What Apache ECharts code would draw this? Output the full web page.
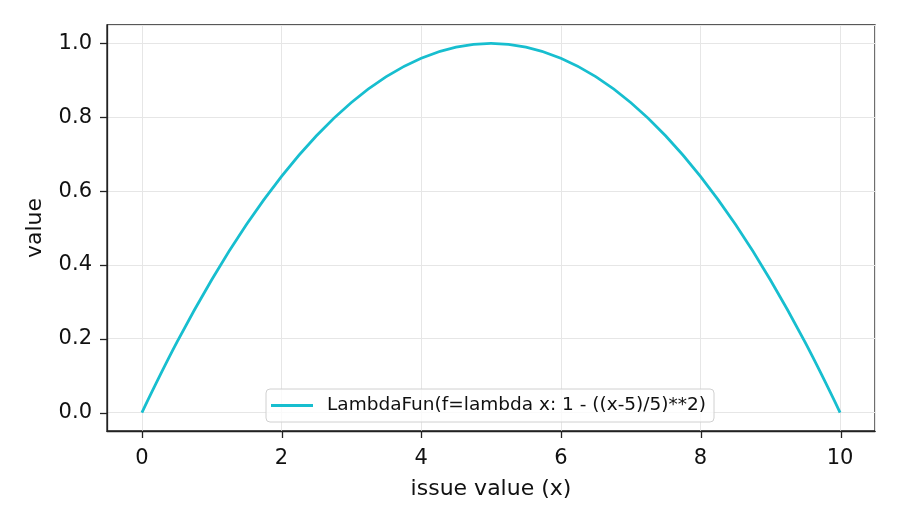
<!DOCTYPE html>
<html>
<head>
<meta charset="utf-8">
<script src="https://cdn.jsdelivr.net/npm/echarts@6/dist/echarts.min.js"></script>
<style>
  html, body { margin: 0; padding: 0; background: #fff; }
  #main { width: 900px; height: 525px; }
</style>
</head>
<body>
<div id="main"></div>
<script>
// values
var xs = [0, 0.5, 1, 1.5, 2, 2.5, 3, 3.5, 4, 4.5, 5, 5.5, 6, 6.5, 7, 7.5, 8, 8.5, 9, 9.5, 10];
var ys = [0, 0.19, 0.36, 0.51, 0.64, 0.75, 0.84, 0.91, 0.96, 0.99, 1.0, 0.99, 0.96, 0.91, 0.84, 0.75, 0.64, 0.51, 0.36, 0.19, 0];
var xTicks = [0, 2, 4, 6, 8, 10];
var yTicks = [0, 0.2, 0.4, 0.6, 0.8, 1.0];
var seriesName = 'LambdaFun(f=lambda x: 1 - ((x-5)/5)**2)';

var chart = echarts.init(document.getElementById('main'));
var font = 'DejaVu Sans';

var points = [];
for (var i = 0; i < xs.length; i++) {
  points.push([xs[i], ys[i]]);
}

var tickStyle = { color: '#222', width: 1.3 };

var option = {
  animation: false,
  textStyle: { fontFamily: font },
  grid: [
    { left: 107, right: 25, top: 25, bottom: 94, show: true, borderColor: '#222', borderWidth: 1.3 },
    // inner box spanning the data range, only used to place the tick marks
    { left: 142, right: 59, top: 43, bottom: 112 }
  ],
  legend: {
    data: [seriesName],
    bottom: 103,
    left: 266,
    icon: 'rect',
    itemWidth: 42,
    itemHeight: 3,
    itemGap: 10,
    padding: [7, 8, 7, 5],
    borderColor: '#d0d0d0',
    borderWidth: 1,
    borderRadius: 4,
    backgroundColor: 'rgba(255,255,255,0.8)',
    textStyle: { fontFamily: font, fontSize: 18.5, color: '#111', padding: [0, 0, 0, 9] }
  },
  xAxis: [{
    type: 'value',
    min: -0.5,
    max: 10.5,
    name: 'issue value (x)',
    nameLocation: 'middle',
    nameGap: 47,
    nameTextStyle: { fontFamily: font, fontSize: 22, color: '#111' },
    axisLine: { show: true, onZero: false, lineStyle: tickStyle },
    axisTick: { show: false },
    axisLabel: { customValues: xTicks, fontSize: 21, color: '#111', margin: 17, fontFamily: font },
    splitLine: { show: true, lineStyle: { color: '#e6e6e6', width: 1 } }
  }, {
    type: 'value',
    gridIndex: 1,
    min: 0,
    max: 10,
    interval: 2,
    position: 'bottom',
    offset: 18,
    axisLine: { show: false, onZero: false },
    axisTick: { show: true, length: 7, lineStyle: tickStyle },
    axisLabel: { show: false },
    splitLine: { show: false }
  }],
  yAxis: [{
    type: 'value',
    min: -0.05,
    max: 1.05,
    name: 'value',
    nameLocation: 'middle',
    nameGap: 61,
    nameTextStyle: { fontFamily: font, fontSize: 22, color: '#111' },
    axisLine: { show: true, onZero: false, lineStyle: tickStyle },
    axisTick: { show: false },
    axisLabel: {
      customValues: yTicks, fontSize: 21, color: '#111', margin: 15, fontFamily: font,
      formatter: function (v) { return v.toFixed(1); }
    },
    splitLine: { show: true, lineStyle: { color: '#e6e6e6', width: 1 } }
  }, {
    type: 'value',
    gridIndex: 1,
    min: 0,
    max: 1,
    interval: 0.2,
    position: 'left',
    offset: 35,
    axisLine: { show: false, onZero: false },
    axisTick: { show: true, length: 7, lineStyle: tickStyle },
    axisLabel: { show: false },
    splitLine: { show: false }
  }],
  series: [{
    name: seriesName,
    type: 'line',
    xAxisIndex: 0,
    yAxisIndex: 0,
    data: points,
    smooth: 0.4,
    symbol: 'none',
    itemStyle: { color: '#17becf' },
    lineStyle: { color: '#17becf', width: 2.8 }
  }]
};

chart.setOption(option);
window.onresize = chart.resize;
</script>
</body>
</html>
